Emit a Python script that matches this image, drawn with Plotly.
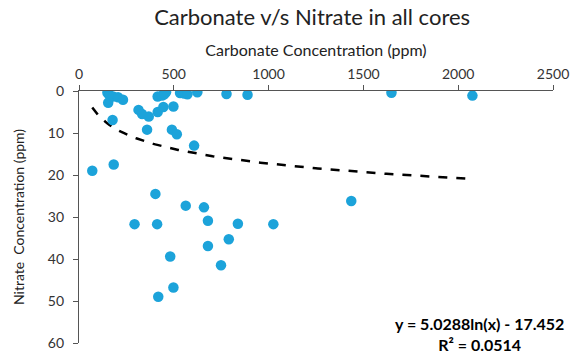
import numpy as np
import plotly.graph_objects as go

# Carbonate (ppm) and nitrate (ppm) measurements across all cores
carbonate = [150, 154, 160, 180, 206, 232, 177,
             314, 333, 368, 359, 415, 445, 415, 438, 459, 450,
             498, 490, 516, 607, 533, 555, 572, 624,
             778, 889, 1648, 2075, 70, 183,
             403, 293, 412, 563, 659, 680, 838, 790, 680, 481, 749, 498, 418,
             1025, 1436]
nitrate = [0.4, 2.8, 1.0, 1.3, 1.5, 2.1, 6.9,
           4.5, 5.5, 6.1, 9.2, 5.0, 3.8, 1.3, 1.1, 0.3, 0.8,
           3.7, 9.2, 10.3, 13.0, 0.5, 0.6, 0.8, 0.3,
           0.7, 0.9, 0.4, 1.1, 19.0, 17.5,
           24.5, 31.7, 31.7, 27.3, 27.7, 30.9, 31.6, 35.3, 36.9, 39.4, 41.5, 46.8, 49.0,
           31.7, 26.2]

# Logarithmic trendline coefficients
fit_a = 5.0288
fit_b = -17.452
r_squared = 0.0514

x_ticks = [0, 500, 1000, 1500, 2000, 2500]
y_ticks = [0, 10, 20, 30, 40, 50, 60]

FONT = "Lato, 'Open Sans', sans-serif"

trend_x = np.linspace(min(carbonate), max(carbonate), 200)
trend_y = fit_a * np.log(trend_x) + fit_b

fig = go.Figure()
fig.add_trace(go.Scatter(
    x=trend_x, y=trend_y, mode="lines",
    line=dict(color="black", width=2.5, dash="dash"),
    hoverinfo="skip", showlegend=False,
))
fig.add_trace(go.Scatter(
    x=carbonate, y=nitrate, mode="markers",
    marker=dict(color="#1CA3DA", size=10.5, line=dict(width=0)),
    showlegend=False,
))

fig.update_layout(
    width=578, height=360,
    margin=dict(l=79, r=21, t=91, b=9),
    paper_bgcolor="white", plot_bgcolor="white",
    font=dict(family=FONT, color="#333333"),
    title=dict(text="Carbonate v/s Nitrate in all cores",
               font=dict(size=22, color="#222222"),
               x=0.54, xanchor="center", y=0.952, yanchor="middle"),
    xaxis=dict(
        side="top", range=[0, 2500], tickvals=x_ticks,
        showgrid=False, zeroline=False,
        showline=True, linecolor="#555555", linewidth=1.2,
        ticks="outside", ticklen=5, tickcolor="#555555",
        tickfont=dict(size=14, color="#333333"),
        title=dict(text="Carbonate Concentration (ppm)",
                   font=dict(size=16, color="#222222"), standoff=4),
    ),
    yaxis=dict(
        range=[60, 0], tickvals=y_ticks,
        showgrid=False, zeroline=False,
        showline=True, linecolor="#555555", linewidth=1.2,
        ticks="outside", ticklen=5, tickcolor="#555555",
        ticklabelstandoff=6,
        tickfont=dict(size=14, color="#333333"),
        title=dict(text="Nitrate\u00a0 Concentration (ppm)",
                   font=dict(size=14, color="#222222"), standoff=19),
    ),
    annotations=[dict(
        xref="paper", yref="paper", x=0.845, y=0.035,
        xanchor="center", yanchor="middle", align="center", showarrow=False,
        text=f"<b>y = {fit_a}ln(x) - {abs(fit_b)}</b><br><b>R\u00b2 = {r_squared}</b>",
        font=dict(size=16, color="black", family=FONT),
    )],
)

fig.write_html("out.html")
